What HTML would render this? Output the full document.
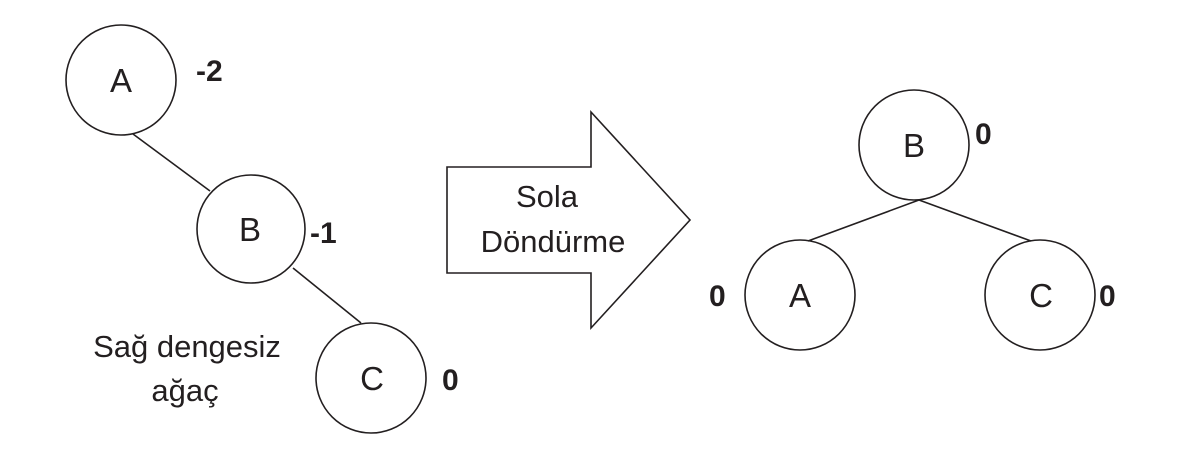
<!DOCTYPE html>
<html><head><meta charset="utf-8"><style>
html,body{margin:0;padding:0;background:#fff;}
svg{display:block;}
text{font-family:"Liberation Sans",sans-serif;fill:#231f20;}
.n{font-size:33px;text-anchor:middle;}
.b{font-size:30px;font-weight:bold;}
.t{font-size:31px;text-anchor:middle;}
</style></head><body>
<svg width="1200" height="449" viewBox="0 0 1200 449" xmlns="http://www.w3.org/2000/svg">
<g fill="none" stroke="#231f20" stroke-width="1.6">
<circle cx="121" cy="80" r="55"/>
<circle cx="251" cy="229" r="54"/>
<circle cx="371" cy="378" r="55"/>
<line x1="133" y1="134" x2="210" y2="191"/>
<line x1="293" y1="268" x2="361" y2="323"/>
<polygon points="447,167 591,167 591,112 690,220 591,328 591,273 447,273"/>
<circle cx="914" cy="145" r="55"/>
<circle cx="800" cy="295" r="55"/>
<circle cx="1040" cy="295" r="55"/>
<line x1="919" y1="200" x2="808" y2="241"/>
<line x1="919" y1="200" x2="1031" y2="241"/>
</g>
<text class="n" x="121" y="92">A</text>
<text class="n" x="250" y="241">B</text>
<text class="n" x="372" y="390">C</text>
<text class="b" x="196" y="81">-2</text>
<text class="b" x="310" y="243">-1</text>
<text class="b" x="442" y="390">0</text>
<text class="t" x="187" y="357">Sağ dengesiz</text>
<text class="t" x="185" y="401">ağaç</text>
<text class="t" x="547" y="207">Sola</text>
<text class="t" x="553" y="252">Döndürme</text>
<text class="n" x="914" y="157">B</text>
<text class="n" x="800" y="307">A</text>
<text class="n" x="1041" y="307">C</text>
<text class="b" x="975" y="144">0</text>
<text class="b" x="709" y="306">0</text>
<text class="b" x="1099" y="306">0</text>
</svg>
</body></html>
